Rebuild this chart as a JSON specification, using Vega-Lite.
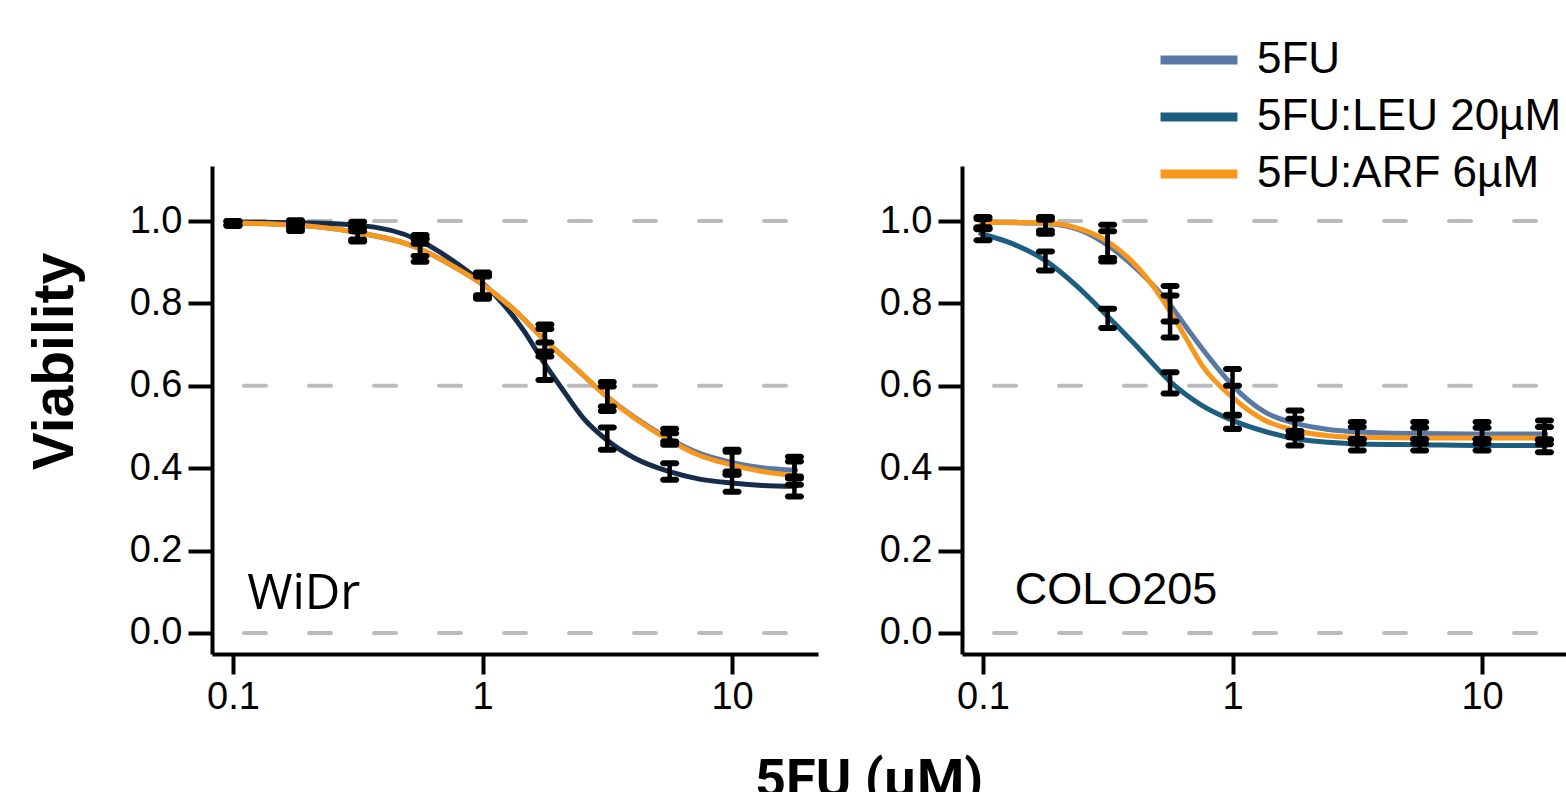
{
  "$schema": "https://vega.github.io/schema/vega-lite/v6.json",
  "padding": {"left": 26, "top": 27, "right": 0, "bottom": 0},
  "background": "white",
  "config": {
    "view": {"stroke": null},
    "concat": {"spacing": 59},
    "axis": {
      "domainColor": "black", "domainWidth": 4, "tickColor": "black", "tickWidth": 4,
      "labelColor": "black", "labelFont": "Liberation Sans", "labelFontSize": 38,
      "grid": false, "titleColor": "black"
    },
    "legend": {
      "title": null, "orient": "none", "legendX": 204, "legendY": -139,
      "symbolType": "M-1.35,0H1.35", "symbolSize": 3249, "symbolStrokeWidth": 9,
      "labelFont": "Liberation Sans", "labelFontSize": 44, "labelColor": "black",
      "labelOffset": 25, "rowPadding": 2, "padding": 0, "offset": 0, "labelLimit": 600
    }
  },
  "title": {
    "text": "5FU (µM)", "orient": "bottom", "anchor": "middle", "font": "Roboto",
    "fontSize": 54, "fontWeight": "bold", "color": "black", "offset": 38, "dx": 71
  },
  "datasets": {
    "curves": [
      {"c": "WiDr", "s": "5FU:LEU 20µM", "d": 0.098, "v": 0.997},
      {"c": "WiDr", "s": "5FU:LEU 20µM", "d": 0.178, "v": 0.996},
      {"c": "WiDr", "s": "5FU:LEU 20µM", "d": 0.316, "v": 0.99},
      {"c": "WiDr", "s": "5FU:LEU 20µM", "d": 0.553, "v": 0.954},
      {"c": "WiDr", "s": "5FU:LEU 20µM", "d": 0.789, "v": 0.897},
      {"c": "WiDr", "s": "5FU:LEU 20µM", "d": 1.0, "v": 0.849},
      {"c": "WiDr", "s": "5FU:LEU 20µM", "d": 1.22, "v": 0.796},
      {"c": "WiDr", "s": "5FU:LEU 20µM", "d": 1.47, "v": 0.732},
      {"c": "WiDr", "s": "5FU:LEU 20µM", "d": 1.75, "v": 0.659},
      {"c": "WiDr", "s": "5FU:LEU 20µM", "d": 2.12, "v": 0.586},
      {"c": "WiDr", "s": "5FU:LEU 20µM", "d": 2.54, "v": 0.521},
      {"c": "WiDr", "s": "5FU:LEU 20µM", "d": 3.14, "v": 0.469},
      {"c": "WiDr", "s": "5FU:LEU 20µM", "d": 4.08, "v": 0.424},
      {"c": "WiDr", "s": "5FU:LEU 20µM", "d": 5.57, "v": 0.392},
      {"c": "WiDr", "s": "5FU:LEU 20µM", "d": 7.33, "v": 0.374},
      {"c": "WiDr", "s": "5FU:LEU 20µM", "d": 9.94, "v": 0.364},
      {"c": "WiDr", "s": "5FU:LEU 20µM", "d": 13.2, "v": 0.358},
      {"c": "WiDr", "s": "5FU:LEU 20µM", "d": 18.0, "v": 0.356},
      {"c": "WiDr", "s": "5FU", "d": 0.098, "v": 0.995},
      {"c": "WiDr", "s": "5FU", "d": 0.178, "v": 0.99},
      {"c": "WiDr", "s": "5FU", "d": 0.316, "v": 0.972},
      {"c": "WiDr", "s": "5FU", "d": 0.553, "v": 0.934},
      {"c": "WiDr", "s": "5FU", "d": 0.789, "v": 0.885},
      {"c": "WiDr", "s": "5FU", "d": 1.0, "v": 0.846},
      {"c": "WiDr", "s": "5FU", "d": 1.32, "v": 0.788},
      {"c": "WiDr", "s": "5FU", "d": 1.75, "v": 0.715},
      {"c": "WiDr", "s": "5FU", "d": 2.36, "v": 0.643},
      {"c": "WiDr", "s": "5FU", "d": 3.14, "v": 0.575},
      {"c": "WiDr", "s": "5FU", "d": 4.08, "v": 0.523},
      {"c": "WiDr", "s": "5FU", "d": 5.57, "v": 0.472},
      {"c": "WiDr", "s": "5FU", "d": 7.33, "v": 0.437},
      {"c": "WiDr", "s": "5FU", "d": 9.94, "v": 0.414},
      {"c": "WiDr", "s": "5FU", "d": 13.2, "v": 0.401},
      {"c": "WiDr", "s": "5FU", "d": 18.0, "v": 0.395},
      {"c": "WiDr", "s": "5FU:ARF 6µM", "d": 0.098, "v": 0.995},
      {"c": "WiDr", "s": "5FU:ARF 6µM", "d": 0.178, "v": 0.99},
      {"c": "WiDr", "s": "5FU:ARF 6µM", "d": 0.316, "v": 0.972},
      {"c": "WiDr", "s": "5FU:ARF 6µM", "d": 0.553, "v": 0.934},
      {"c": "WiDr", "s": "5FU:ARF 6µM", "d": 0.789, "v": 0.885},
      {"c": "WiDr", "s": "5FU:ARF 6µM", "d": 1.0, "v": 0.846},
      {"c": "WiDr", "s": "5FU:ARF 6µM", "d": 1.32, "v": 0.788},
      {"c": "WiDr", "s": "5FU:ARF 6µM", "d": 1.75, "v": 0.715},
      {"c": "WiDr", "s": "5FU:ARF 6µM", "d": 2.36, "v": 0.643},
      {"c": "WiDr", "s": "5FU:ARF 6µM", "d": 3.14, "v": 0.574},
      {"c": "WiDr", "s": "5FU:ARF 6µM", "d": 4.08, "v": 0.521},
      {"c": "WiDr", "s": "5FU:ARF 6µM", "d": 5.57, "v": 0.469},
      {"c": "WiDr", "s": "5FU:ARF 6µM", "d": 7.33, "v": 0.432},
      {"c": "WiDr", "s": "5FU:ARF 6µM", "d": 9.94, "v": 0.408},
      {"c": "WiDr", "s": "5FU:ARF 6µM", "d": 13.2, "v": 0.392},
      {"c": "WiDr", "s": "5FU:ARF 6µM", "d": 18.0, "v": 0.382},
      {"c": "COLO205", "s": "5FU:LEU 20µM", "d": 0.098, "v": 0.969},
      {"c": "COLO205", "s": "5FU:LEU 20µM", "d": 0.131, "v": 0.945},
      {"c": "COLO205", "s": "5FU:LEU 20µM", "d": 0.178, "v": 0.904},
      {"c": "COLO205", "s": "5FU:LEU 20µM", "d": 0.236, "v": 0.844},
      {"c": "COLO205", "s": "5FU:LEU 20µM", "d": 0.318, "v": 0.767},
      {"c": "COLO205", "s": "5FU:LEU 20µM", "d": 0.422, "v": 0.69},
      {"c": "COLO205", "s": "5FU:LEU 20µM", "d": 0.565, "v": 0.609},
      {"c": "COLO205", "s": "5FU:LEU 20µM", "d": 0.756, "v": 0.552},
      {"c": "COLO205", "s": "5FU:LEU 20µM", "d": 1.0, "v": 0.516},
      {"c": "COLO205", "s": "5FU:LEU 20µM", "d": 1.35, "v": 0.489},
      {"c": "COLO205", "s": "5FU:LEU 20µM", "d": 1.81, "v": 0.471},
      {"c": "COLO205", "s": "5FU:LEU 20µM", "d": 2.42, "v": 0.463},
      {"c": "COLO205", "s": "5FU:LEU 20µM", "d": 3.2, "v": 0.459},
      {"c": "COLO205", "s": "5FU:LEU 20µM", "d": 5.74, "v": 0.457},
      {"c": "COLO205", "s": "5FU:LEU 20µM", "d": 10.3, "v": 0.455},
      {"c": "COLO205", "s": "5FU:LEU 20µM", "d": 18.0, "v": 0.455},
      {"c": "COLO205", "s": "5FU", "d": 0.098, "v": 0.997},
      {"c": "COLO205", "s": "5FU", "d": 0.178, "v": 0.994},
      {"c": "COLO205", "s": "5FU", "d": 0.25, "v": 0.976},
      {"c": "COLO205", "s": "5FU", "d": 0.318, "v": 0.94},
      {"c": "COLO205", "s": "5FU", "d": 0.422, "v": 0.878},
      {"c": "COLO205", "s": "5FU", "d": 0.565, "v": 0.795},
      {"c": "COLO205", "s": "5FU", "d": 0.653, "v": 0.742},
      {"c": "COLO205", "s": "5FU", "d": 0.756, "v": 0.69},
      {"c": "COLO205", "s": "5FU", "d": 1.0, "v": 0.601},
      {"c": "COLO205", "s": "5FU", "d": 1.35, "v": 0.536},
      {"c": "COLO205", "s": "5FU", "d": 1.81, "v": 0.508},
      {"c": "COLO205", "s": "5FU", "d": 2.42, "v": 0.494},
      {"c": "COLO205", "s": "5FU", "d": 3.2, "v": 0.488},
      {"c": "COLO205", "s": "5FU", "d": 5.74, "v": 0.484},
      {"c": "COLO205", "s": "5FU", "d": 10.3, "v": 0.483},
      {"c": "COLO205", "s": "5FU", "d": 18.0, "v": 0.483},
      {"c": "COLO205", "s": "5FU:ARF 6µM", "d": 0.098, "v": 0.997},
      {"c": "COLO205", "s": "5FU:ARF 6µM", "d": 0.178, "v": 0.995},
      {"c": "COLO205", "s": "5FU:ARF 6µM", "d": 0.25, "v": 0.979},
      {"c": "COLO205", "s": "5FU:ARF 6µM", "d": 0.318, "v": 0.949},
      {"c": "COLO205", "s": "5FU:ARF 6µM", "d": 0.422, "v": 0.884},
      {"c": "COLO205", "s": "5FU:ARF 6µM", "d": 0.565, "v": 0.779},
      {"c": "COLO205", "s": "5FU:ARF 6µM", "d": 0.653, "v": 0.714},
      {"c": "COLO205", "s": "5FU:ARF 6µM", "d": 0.756, "v": 0.649},
      {"c": "COLO205", "s": "5FU:ARF 6µM", "d": 1.0, "v": 0.572},
      {"c": "COLO205", "s": "5FU:ARF 6µM", "d": 1.35, "v": 0.516},
      {"c": "COLO205", "s": "5FU:ARF 6µM", "d": 1.81, "v": 0.491},
      {"c": "COLO205", "s": "5FU:ARF 6µM", "d": 2.42, "v": 0.479},
      {"c": "COLO205", "s": "5FU:ARF 6µM", "d": 3.2, "v": 0.475},
      {"c": "COLO205", "s": "5FU:ARF 6µM", "d": 5.74, "v": 0.473},
      {"c": "COLO205", "s": "5FU:ARF 6µM", "d": 10.3, "v": 0.473},
      {"c": "COLO205", "s": "5FU:ARF 6µM", "d": 18.0, "v": 0.473}
    ],
    "bars": [
      {"c": "WiDr", "s": "5FU", "d": 0.1, "lo": 0.99, "hi": 1.0},
      {"c": "WiDr", "s": "5FU", "d": 0.178, "lo": 0.976, "hi": 0.997},
      {"c": "WiDr", "s": "5FU", "d": 0.316, "lo": 0.955, "hi": 0.984},
      {"c": "WiDr", "s": "5FU", "d": 0.562, "lo": 0.915, "hi": 0.958},
      {"c": "WiDr", "s": "5FU", "d": 1.0, "lo": 0.811, "hi": 0.865},
      {"c": "WiDr", "s": "5FU", "d": 1.778, "lo": 0.683, "hi": 0.749},
      {"c": "WiDr", "s": "5FU", "d": 3.162, "lo": 0.55, "hi": 0.609},
      {"c": "WiDr", "s": "5FU", "d": 5.623, "lo": 0.465, "hi": 0.496},
      {"c": "WiDr", "s": "5FU", "d": 10.0, "lo": 0.392, "hi": 0.445},
      {"c": "WiDr", "s": "5FU", "d": 17.78, "lo": 0.375, "hi": 0.428},
      {"c": "WiDr", "s": "5FU:LEU 20µM", "d": 0.1, "lo": 0.99, "hi": 1.0},
      {"c": "WiDr", "s": "5FU:LEU 20µM", "d": 0.178, "lo": 0.99, "hi": 1.002},
      {"c": "WiDr", "s": "5FU:LEU 20µM", "d": 0.316, "lo": 0.984, "hi": 0.998},
      {"c": "WiDr", "s": "5FU:LEU 20µM", "d": 0.562, "lo": 0.945, "hi": 0.966},
      {"c": "WiDr", "s": "5FU:LEU 20µM", "d": 1.0, "lo": 0.82, "hi": 0.875},
      {"c": "WiDr", "s": "5FU:LEU 20µM", "d": 1.778, "lo": 0.614, "hi": 0.705},
      {"c": "WiDr", "s": "5FU:LEU 20µM", "d": 3.162, "lo": 0.445, "hi": 0.499},
      {"c": "WiDr", "s": "5FU:LEU 20µM", "d": 5.623, "lo": 0.372, "hi": 0.412},
      {"c": "WiDr", "s": "5FU:LEU 20µM", "d": 10.0, "lo": 0.343, "hi": 0.385},
      {"c": "WiDr", "s": "5FU:LEU 20µM", "d": 17.78, "lo": 0.331, "hi": 0.38},
      {"c": "WiDr", "s": "5FU:ARF 6µM", "d": 0.1, "lo": 0.988, "hi": 0.998},
      {"c": "WiDr", "s": "5FU:ARF 6µM", "d": 0.178, "lo": 0.982, "hi": 0.995},
      {"c": "WiDr", "s": "5FU:ARF 6µM", "d": 0.316, "lo": 0.95, "hi": 0.975},
      {"c": "WiDr", "s": "5FU:ARF 6µM", "d": 0.562, "lo": 0.901, "hi": 0.955},
      {"c": "WiDr", "s": "5FU:ARF 6µM", "d": 1.0, "lo": 0.815, "hi": 0.87},
      {"c": "WiDr", "s": "5FU:ARF 6µM", "d": 1.778, "lo": 0.671, "hi": 0.738},
      {"c": "WiDr", "s": "5FU:ARF 6µM", "d": 3.162, "lo": 0.539, "hi": 0.598},
      {"c": "WiDr", "s": "5FU:ARF 6µM", "d": 5.623, "lo": 0.457, "hi": 0.485},
      {"c": "WiDr", "s": "5FU:ARF 6µM", "d": 10.0, "lo": 0.384, "hi": 0.44},
      {"c": "WiDr", "s": "5FU:ARF 6µM", "d": 17.78, "lo": 0.36, "hi": 0.416},
      {"c": "COLO205", "s": "5FU", "d": 0.1, "lo": 0.98, "hi": 1.01},
      {"c": "COLO205", "s": "5FU", "d": 0.178, "lo": 0.977, "hi": 1.01},
      {"c": "COLO205", "s": "5FU", "d": 0.316, "lo": 0.91, "hi": 0.991},
      {"c": "COLO205", "s": "5FU", "d": 0.562, "lo": 0.756, "hi": 0.842},
      {"c": "COLO205", "s": "5FU", "d": 1.0, "lo": 0.53, "hi": 0.641},
      {"c": "COLO205", "s": "5FU", "d": 1.778, "lo": 0.49, "hi": 0.54},
      {"c": "COLO205", "s": "5FU", "d": 3.162, "lo": 0.47, "hi": 0.512},
      {"c": "COLO205", "s": "5FU", "d": 5.623, "lo": 0.47, "hi": 0.512},
      {"c": "COLO205", "s": "5FU", "d": 10.0, "lo": 0.47, "hi": 0.512},
      {"c": "COLO205", "s": "5FU", "d": 17.78, "lo": 0.47, "hi": 0.516},
      {"c": "COLO205", "s": "5FU:LEU 20µM", "d": 0.1, "lo": 0.953, "hi": 0.985},
      {"c": "COLO205", "s": "5FU:LEU 20µM", "d": 0.178, "lo": 0.88, "hi": 0.926},
      {"c": "COLO205", "s": "5FU:LEU 20µM", "d": 0.316, "lo": 0.74, "hi": 0.787},
      {"c": "COLO205", "s": "5FU:LEU 20µM", "d": 0.562, "lo": 0.581, "hi": 0.633},
      {"c": "COLO205", "s": "5FU:LEU 20µM", "d": 1.0, "lo": 0.495, "hi": 0.528},
      {"c": "COLO205", "s": "5FU:LEU 20µM", "d": 1.778, "lo": 0.455, "hi": 0.48},
      {"c": "COLO205", "s": "5FU:LEU 20µM", "d": 3.162, "lo": 0.443, "hi": 0.47},
      {"c": "COLO205", "s": "5FU:LEU 20µM", "d": 5.623, "lo": 0.443, "hi": 0.47},
      {"c": "COLO205", "s": "5FU:LEU 20µM", "d": 10.0, "lo": 0.443, "hi": 0.47},
      {"c": "COLO205", "s": "5FU:LEU 20µM", "d": 17.78, "lo": 0.439, "hi": 0.468},
      {"c": "COLO205", "s": "5FU:ARF 6µM", "d": 0.1, "lo": 0.981, "hi": 1.005},
      {"c": "COLO205", "s": "5FU:ARF 6µM", "d": 0.178, "lo": 0.969, "hi": 1.003},
      {"c": "COLO205", "s": "5FU:ARF 6µM", "d": 0.316, "lo": 0.902, "hi": 0.975},
      {"c": "COLO205", "s": "5FU:ARF 6µM", "d": 0.562, "lo": 0.717, "hi": 0.819},
      {"c": "COLO205", "s": "5FU:ARF 6µM", "d": 1.0, "lo": 0.496, "hi": 0.6},
      {"c": "COLO205", "s": "5FU:ARF 6µM", "d": 1.778, "lo": 0.475, "hi": 0.52},
      {"c": "COLO205", "s": "5FU:ARF 6µM", "d": 3.162, "lo": 0.46, "hi": 0.5},
      {"c": "COLO205", "s": "5FU:ARF 6µM", "d": 5.623, "lo": 0.46, "hi": 0.498},
      {"c": "COLO205", "s": "5FU:ARF 6µM", "d": 10.0, "lo": 0.46, "hi": 0.498},
      {"c": "COLO205", "s": "5FU:ARF 6µM", "d": 17.78, "lo": 0.458, "hi": 0.5}
    ],
    "grid": [{"g": 0}, {"g": 0.6}, {"g": 1.0}]
  },
  "resolve": {"scale": {"color": "independent"}},
  "hconcat": [
    {
      "width": 606, "height": 488,
      "layer": [
        {
          "data": {"name": "grid"},
          "mark": {"type": "rule", "stroke": "#bbbbbb", "strokeWidth": 4, "strokeDash": [22, 43], "strokeDashOffset": 33, "strokeCap": "round"},
          "encoding": {
            "y": {"field": "g", "type": "quantitative", "title": "Viability", "scale": {"domain": [-0.051, 1.1335], "nice": false, "zero": false}}
          }
        },
        {
          "data": {"name": "curves"},
          "transform": [{"filter": "datum.c === 'WiDr'"}],
          "mark": {"type": "line", "strokeWidth": 5, "interpolate": "monotone", "strokeCap": "round"},
          "encoding": {
            "x": {"field": "d", "type": "quantitative", "title": null,
                  "scale": {"type": "log", "domain": [0.0824, 22.1], "nice": false},
                  "axis": {"values": [0.1, 1, 10], "format": "~g", "tickSize": 20, "labelPadding": 4}},
            "y": {"field": "v", "type": "quantitative", "title": "Viability",
                  "scale": {"domain": [-0.051, 1.1335], "nice": false, "zero": false},
                  "axis": {"values": [0, 0.2, 0.4, 0.6, 0.8, 1.0], "format": ".1f", "tickSize": 24, "labelPadding": 6,
                           "titleFont": "Liberation Sans", "titleFontSize": 57, "titleFontWeight": "bold", "titlePadding": 45, "titleY": 195}},
            "color": {"field": "s", "type": "nominal", "legend": null,
                      "scale": {"domain": ["5FU", "5FU:LEU 20µM", "5FU:ARF 6µM"], "range": ["#5a78a5", "#152d4b", "#f7981d"]}}
          }
        },
        {
          "data": {"name": "bars"},
          "transform": [{"filter": "datum.c === 'WiDr'"}],
          "mark": {"type": "rule", "color": "black", "strokeWidth": 4.5},
          "encoding": {
            "x": {"field": "d", "type": "quantitative", "title": null, "scale": {"type": "log", "domain": [0.0824, 22.1], "nice": false}},
            "y": {"field": "lo", "type": "quantitative", "title": "Viability", "scale": {"domain": [-0.051, 1.1335], "nice": false, "zero": false}},
            "y2": {"field": "hi"}
          }
        },
        {
          "data": {"name": "bars"},
          "transform": [{"filter": "datum.c === 'WiDr'"}],
          "mark": {"type": "tick", "orient": "horizontal", "color": "black", "size": 19, "thickness": 6, "cornerRadius": 3, "opacity": 1},
          "encoding": {
            "x": {"field": "d", "type": "quantitative", "title": null, "scale": {"type": "log", "domain": [0.0824, 22.1], "nice": false}},
            "y": {"field": "lo", "type": "quantitative", "title": "Viability", "scale": {"domain": [-0.051, 1.1335], "nice": false, "zero": false}}
          }
        },
        {
          "data": {"name": "bars"},
          "transform": [{"filter": "datum.c === 'WiDr'"}],
          "mark": {"type": "tick", "orient": "horizontal", "color": "black", "size": 19, "thickness": 6, "cornerRadius": 3, "opacity": 1},
          "encoding": {
            "x": {"field": "d", "type": "quantitative", "title": null, "scale": {"type": "log", "domain": [0.0824, 22.1], "nice": false}},
            "y": {"field": "hi", "type": "quantitative", "title": "Viability", "scale": {"domain": [-0.051, 1.1335], "nice": false, "zero": false}}
          }
        },
        {
          "data": {"values": [{"label": "WiDr"}]},
          "mark": {"type": "text", "align": "left", "baseline": "alphabetic", "font": "Open Sans", "fontSize": 49, "color": "black"},
          "encoding": {
            "text": {"field": "label"},
            "x": {"datum": 0.114, "type": "quantitative", "title": null, "scale": {"type": "log", "domain": [0.0824, 22.1], "nice": false}},
            "y": {"datum": 0.058, "type": "quantitative", "title": "Viability", "scale": {"domain": [-0.051, 1.1335], "nice": false, "zero": false}}
          }
        }
      ]
    },
    {
      "width": 606, "height": 488,
      "layer": [
        {
          "data": {"name": "grid"},
          "mark": {"type": "rule", "stroke": "#bbbbbb", "strokeWidth": 4, "strokeDash": [22, 43], "strokeDashOffset": 33, "strokeCap": "round"},
          "encoding": {
            "y": {"field": "g", "type": "quantitative", "title": null, "scale": {"domain": [-0.051, 1.1335], "nice": false, "zero": false}}
          }
        },
        {
          "data": {"name": "curves"},
          "transform": [{"filter": "datum.c === 'COLO205'"}],
          "mark": {"type": "line", "strokeWidth": 5, "interpolate": "monotone", "strokeCap": "round"},
          "encoding": {
            "x": {"field": "d", "type": "quantitative", "title": null,
                  "scale": {"type": "log", "domain": [0.0824, 22.1], "nice": false},
                  "axis": {"values": [0.1, 1, 10], "format": "~g", "tickSize": 20, "labelPadding": 4}},
            "y": {"field": "v", "type": "quantitative", "title": null,
                  "scale": {"domain": [-0.051, 1.1335], "nice": false, "zero": false},
                  "axis": {"values": [0, 0.2, 0.4, 0.6, 0.8, 1.0], "format": ".1f", "tickSize": 24, "labelPadding": 6}},
            "color": {"field": "s", "type": "nominal",
                      "scale": {"domain": ["5FU", "5FU:LEU 20µM", "5FU:ARF 6µM"], "range": ["#5a78a5", "#1b5e80", "#f7981d"]}}
          }
        },
        {
          "data": {"name": "bars"},
          "transform": [{"filter": "datum.c === 'COLO205'"}],
          "mark": {"type": "rule", "color": "black", "strokeWidth": 4.5},
          "encoding": {
            "x": {"field": "d", "type": "quantitative", "title": null, "scale": {"type": "log", "domain": [0.0824, 22.1], "nice": false}},
            "y": {"field": "lo", "type": "quantitative", "title": null, "scale": {"domain": [-0.051, 1.1335], "nice": false, "zero": false}},
            "y2": {"field": "hi"}
          }
        },
        {
          "data": {"name": "bars"},
          "transform": [{"filter": "datum.c === 'COLO205'"}],
          "mark": {"type": "tick", "orient": "horizontal", "color": "black", "size": 19, "thickness": 6, "cornerRadius": 3, "opacity": 1},
          "encoding": {
            "x": {"field": "d", "type": "quantitative", "title": null, "scale": {"type": "log", "domain": [0.0824, 22.1], "nice": false}},
            "y": {"field": "lo", "type": "quantitative", "title": null, "scale": {"domain": [-0.051, 1.1335], "nice": false, "zero": false}}
          }
        },
        {
          "data": {"name": "bars"},
          "transform": [{"filter": "datum.c === 'COLO205'"}],
          "mark": {"type": "tick", "orient": "horizontal", "color": "black", "size": 19, "thickness": 6, "cornerRadius": 3, "opacity": 1},
          "encoding": {
            "x": {"field": "d", "type": "quantitative", "title": null, "scale": {"type": "log", "domain": [0.0824, 22.1], "nice": false}},
            "y": {"field": "hi", "type": "quantitative", "title": null, "scale": {"domain": [-0.051, 1.1335], "nice": false, "zero": false}}
          }
        },
        {
          "data": {"values": [{"label": "COLO205"}]},
          "mark": {"type": "text", "align": "left", "baseline": "alphabetic", "font": "Liberation Sans", "fontSize": 45, "color": "black"},
          "encoding": {
            "text": {"field": "label"},
            "x": {"datum": 0.134, "type": "quantitative", "title": null, "scale": {"type": "log", "domain": [0.0824, 22.1], "nice": false}},
            "y": {"datum": 0.07, "type": "quantitative", "title": null, "scale": {"domain": [-0.051, 1.1335], "nice": false, "zero": false}}
          }
        }
      ]
    }
  ]
}
